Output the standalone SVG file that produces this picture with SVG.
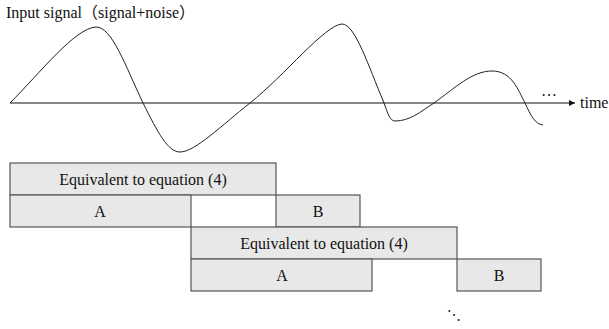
<svg xmlns="http://www.w3.org/2000/svg" width="609" height="329" viewBox="0 0 609 329">
<style>
.t{font-family:"Liberation Serif","Noto Sans CJK SC",serif;font-size:16px;fill:#111}
.c{text-anchor:middle}
.box{fill:#e8e8e8;stroke:#555;stroke-width:1.2}
.wave{fill:none;stroke:#222;stroke-width:1}
.axis{fill:none;stroke:#111;stroke-width:1.2}
</style>
<defs>
<marker id="arr" viewBox="0 0 10 10" refX="10" refY="5" markerWidth="8" markerHeight="6" orient="auto" markerUnits="userSpaceOnUse">
<path d="M0,0 L10,5 L0,10 Z" fill="#111"/>
</marker>
</defs>
<rect width="609" height="329" fill="#fff"/>
<text class="t" x="6" y="18">Input signal（signal+noise）</text>
<g id="connectors">
<path class="axis" d="M10,103 L575,103" marker-end="url(#arr)"/>
</g>
<path class="wave" d="M10,103 C40,73 75,28 96,27 C112,27 125,65 143,103 C158,133 168,152 180,152 C195,152 222,125 250,103 C285,75 325,25 342,24 C355,24 368,65 384,103 C388,114 390,121 395,121 C410,121 420,112 434,103 C455,88 472,71 492,71 C512,71 518,90 525,103 C531,116 535,124 543,125"/>
<text class="t" x="541" y="96">…</text>
<text class="t" x="580" y="108">time</text>
<g id="eq1"><rect class="box" x="10" y="163" width="266" height="32"/><text class="t c" x="143" y="185">Equivalent to equation (4)</text></g>
<g id="a1"><rect class="box" x="10" y="195" width="181" height="32"/><text class="t c" x="100" y="217">A</text></g>
<g id="b1"><rect class="box" x="276" y="195" width="84" height="32"/><text class="t c" x="318" y="217">B</text></g>
<g id="eq2"><rect class="box" x="191" y="227" width="266" height="32"/><text class="t c" x="324" y="249">Equivalent to equation (4)</text></g>
<g id="a2"><rect class="box" x="191" y="259" width="181" height="32"/><text class="t c" x="282" y="281">A</text></g>
<g id="b2"><rect class="box" x="457" y="259" width="84" height="32"/><text class="t c" x="499" y="281">B</text></g>
<text class="t" x="447" y="320" style="font-size:14px">⋱</text>
</svg>
